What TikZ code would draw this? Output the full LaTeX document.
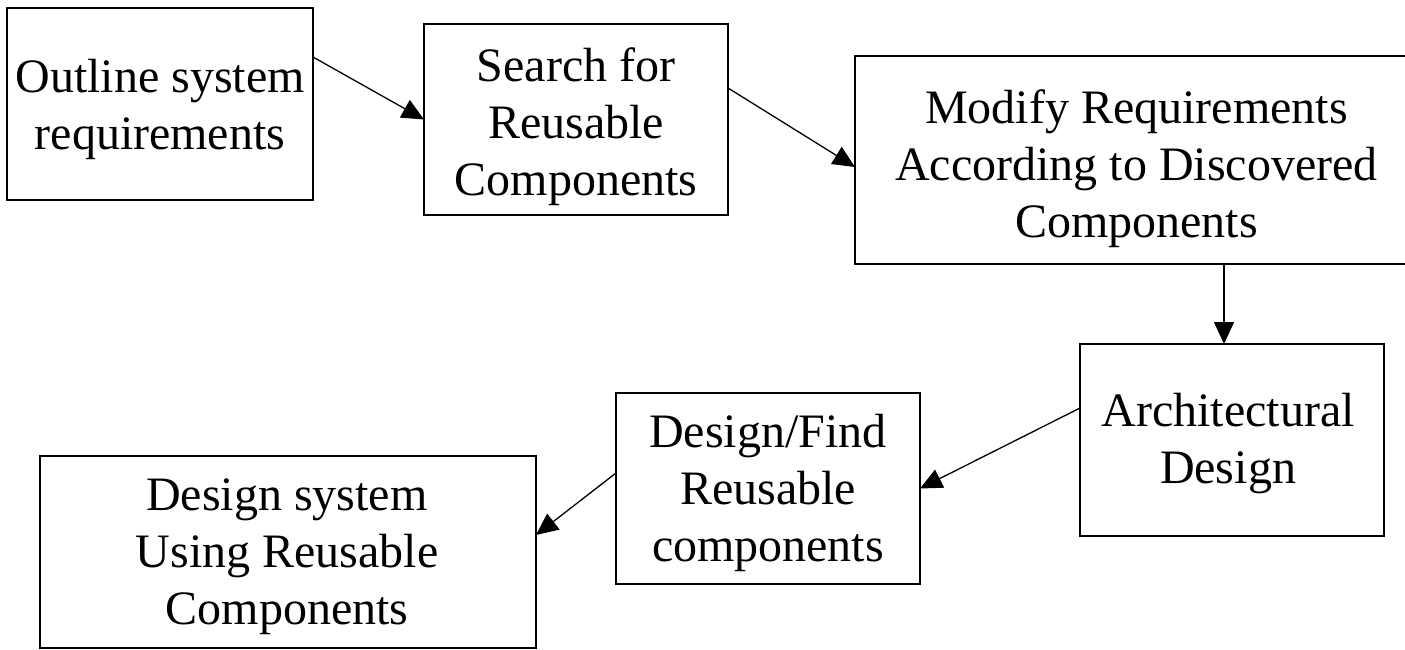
\documentclass[tikz,border=0pt]{standalone}
\usepackage{fontspec}
\setmainfont{Liberation Serif}
\usetikzlibrary{arrows.meta}
\tikzset{
  stepbox/.style={draw, line width=1.6pt, rectangle, inner sep=0pt, outer sep=0pt},
  lbl/.style={inner sep=0pt, align=center, font=\fontsize{48}{57}\selectfont},
  flow/.style={line width=1.3pt, -{Triangle[length=22pt,width=20pt]}}
}
\begin{document}
\begin{tikzpicture}[x=1pt,y=-1pt]
\clip (0,0) rectangle (1405,649);
\fill[white] (0,0) rectangle (1405,649);

% process boxes
\node[stepbox, minimum width=306pt, minimum height=192pt] (b1) at (160,104) {};
\node[stepbox, minimum width=304pt, minimum height=191pt] (b2) at (576,119.5) {};
\node[stepbox, minimum width=563pt, minimum height=208pt] (b3) at (1136.5,160) {};
\node[stepbox, minimum width=304pt, minimum height=192pt] (b4) at (1232,440) {};
\node[stepbox, minimum width=304pt, minimum height=191pt] (b5) at (768,488.5) {};
\node[stepbox, minimum width=496pt, minimum height=192pt] (b6) at (288,552) {};

% box texts
\node[lbl] (t1) at (160,109) {Outline system\\requirements};
\node[lbl] (t2) at (576,126.5) {Search for\\Reusable\\Components};
\node[lbl] (t3) at (1136.5,168.5) {Modify Requirements\\According to Discovered\\Components};
\node[lbl] (t4) at (1228,444) {Architectural\\Design};
\node[lbl] (t5) at (768,493) {Design/Find\\Reusable\\components};
\node[lbl] (t6) at (287,557) {Design system\\Using Reusable\\Components};

% connectors
\coordinate (ax) at (1224,0);
\draw[flow] ([yshift=47pt]b1.east) -- (b2.west);
\draw[flow] ([yshift=31.5pt]b2.east) -- ([yshift=-7pt]b3.west);
\draw[flow] (ax |- b3.south) -- (ax |- b4.north);
\draw[flow] ([yshift=32pt]b4.west) -- (b5.east);
\draw[flow] ([yshift=15.5pt]b5.west) -- ([yshift=17pt]b6.east);
\end{tikzpicture}
\end{document}
